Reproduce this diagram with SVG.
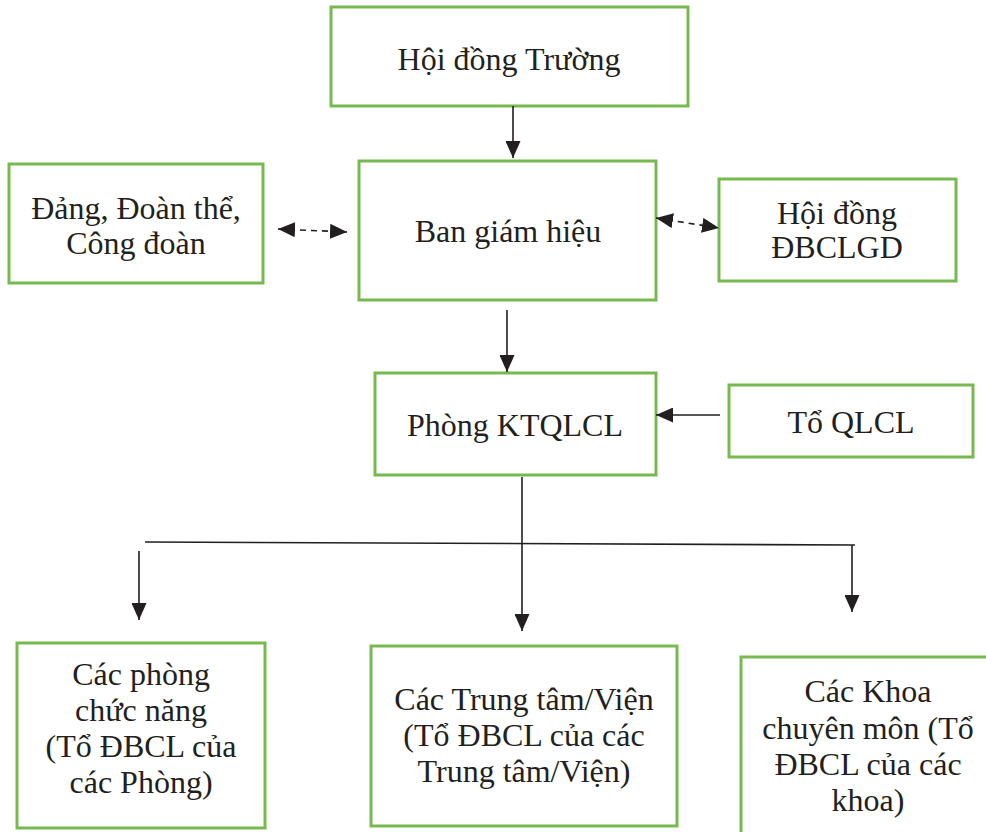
<svg xmlns="http://www.w3.org/2000/svg" width="986" height="832" viewBox="0 0 986 832">
<style>
.box{fill:#fff;stroke:#77b94f;stroke-width:3}
.t{font-family:'Liberation Serif','Times New Roman',Times,serif;font-size:32px;fill:#231f20;text-anchor:middle}
.ln{stroke:#231f20;stroke-width:1.6;fill:none}
.dash{stroke-dasharray:6,5}
</style>
<defs>
<marker id="big" viewBox="0 0 10 10" refX="10" refY="5" markerWidth="17" markerHeight="15" markerUnits="userSpaceOnUse" orient="auto-start-reverse" preserveAspectRatio="none"><path d="M0,0 L10,5 L0,10 z" fill="#231f20"/></marker>
</defs>
<rect width="986" height="832" fill="#fff"/>
<g id="hoi-dong-truong"><rect class="box" x="331" y="7" width="357" height="99"/><text class="t" x="509" y="70">Hội đồng Trường</text></g>
<g id="dang"><rect class="box" x="9" y="164" width="254" height="119"/><text class="t" x="136" y="219">Đảng, Đoàn thể,</text><text class="t" x="136" y="254">Công đoàn</text></g>
<g id="ban-giam-hieu"><rect class="box" x="359" y="161" width="297" height="139"/><text class="t" x="508" y="242">Ban giám hiệu</text></g>
<g id="hoi-dong-dbclgd"><rect class="box" x="719" y="179" width="237" height="102"/><text class="t" x="837" y="224">Hội đồng</text><text class="t" x="837" y="258">ĐBCLGD</text></g>
<g id="phong-ktqlcl"><rect class="box" x="375" y="373" width="281" height="102"/><text class="t" x="515" y="436">Phòng KTQLCL</text></g>
<g id="to-qlcl"><rect class="box" x="729" y="385" width="244" height="72"/><text class="t" x="851" y="433">Tổ QLCL</text></g>
<g id="cac-phong"><rect class="box" x="17" y="643" width="248" height="185"/><text class="t" x="141" y="685">Các phòng</text><text class="t" x="141" y="721">chức năng</text><text class="t" x="141" y="757">(Tổ ĐBCL của</text><text class="t" x="141" y="793">các Phòng)</text></g>
<g id="cac-trung-tam"><rect class="box" x="371" y="646" width="306" height="180"/><text class="t" x="524" y="710">Các Trung tâm/Viện</text><text class="t" x="524" y="746">(Tổ ĐBCL của các</text><text class="t" x="524" y="782">Trung tâm/Viện)</text></g>
<g id="cac-khoa"><rect class="box" x="741" y="657" width="260" height="190"/><text class="t" x="868" y="702">Các Khoa</text><text class="t" x="868" y="739">chuyên môn (Tổ</text><text class="t" x="868" y="775">ĐBCL của các</text><text class="t" x="868" y="811">khoa)</text></g>
<g id="connectors">
<line class="ln" x1="513" y1="106" x2="513" y2="158" marker-end="url(#big)"/>
<line class="ln dash" x1="278" y1="229" x2="347" y2="232" marker-start="url(#big)" marker-end="url(#big)"/>
<line class="ln dash" x1="656" y1="218" x2="719" y2="228" marker-start="url(#big)" marker-end="url(#big)"/>
<line class="ln" x1="507" y1="310" x2="507" y2="372" marker-end="url(#big)"/>
<line class="ln" x1="720" y1="415" x2="656" y2="415" marker-end="url(#big)"/>
<line class="ln" x1="522" y1="477" x2="522" y2="631" marker-end="url(#big)"/>
<line class="ln" x1="145" y1="542" x2="855" y2="545" stroke="#444"/>
<line class="ln" x1="139" y1="551" x2="139" y2="620" marker-end="url(#big)"/>
<line class="ln" x1="852" y1="545" x2="852" y2="612" marker-end="url(#big)"/>
</g>
</svg>
